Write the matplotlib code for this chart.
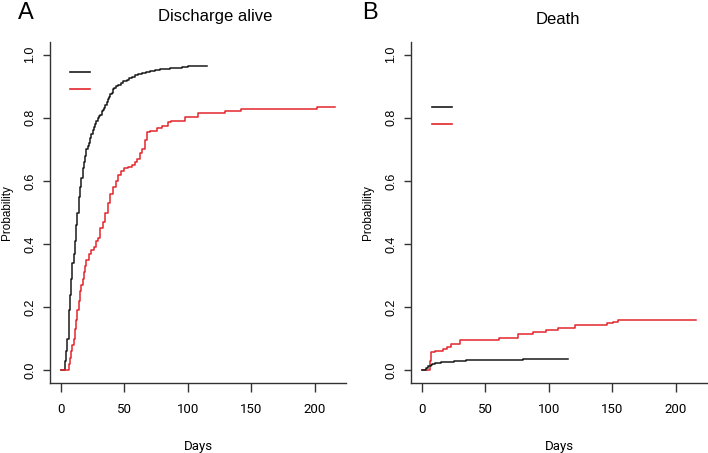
import matplotlib
matplotlib.use("Agg")
import matplotlib.pyplot as plt
from matplotlib.lines import Line2D

# cumulative incidence (days, probability)
dis_black_days = [0, 3, 3.5, 4, 5, 6, 6.5, 7, 8, 9, 10, 11, 12, 13, 14, 15, 16, 17, 18, 19,
                  20, 21, 22, 23, 24, 25, 26, 27, 28, 29, 30, 31, 32, 33, 34, 35, 36, 37,
                  38, 39, 40, 41, 42, 43, 45, 47, 49, 52, 54, 56, 58, 61, 64, 67, 70, 74,
                  78, 82, 86, 90, 95, 100, 105, 110, 115]
dis_black_p = [0, 0, 0.03, 0.06, 0.10, 0.15, 0.19, 0.24, 0.29, 0.34, 0.37, 0.41, 0.46, 0.50,
               0.55, 0.58, 0.61, 0.64, 0.66, 0.68, 0.70, 0.71, 0.72, 0.735, 0.75, 0.76,
               0.77, 0.78, 0.79, 0.80, 0.805, 0.81, 0.82, 0.825, 0.83, 0.84, 0.85, 0.86,
               0.865, 0.875, 0.88, 0.89, 0.895, 0.90, 0.905, 0.91, 0.915, 0.92, 0.925,
               0.93, 0.935, 0.94, 0.943, 0.946, 0.949, 0.951, 0.953, 0.955, 0.957, 0.959,
               0.961, 0.963, 0.964, 0.965, 0.965]

dis_red_days = [0, 5, 6, 7, 8, 9, 10, 11, 12, 13, 14, 15, 16, 17, 18, 19, 20, 22, 24, 26,
                27.5, 29, 31, 33, 35, 37, 39, 41, 43, 45, 47, 50, 53, 56, 58, 60, 62, 64,
                66, 68, 70, 75.6, 80, 84, 87, 98, 108, 129, 142, 202, 216]
dis_red_p = [0, 0, 0.02, 0.04, 0.06, 0.08, 0.10, 0.13, 0.16, 0.19, 0.22, 0.25, 0.27, 0.29,
             0.31, 0.33, 0.35, 0.37, 0.38, 0.39, 0.41, 0.42, 0.45, 0.47, 0.50, 0.53, 0.56,
             0.58, 0.60, 0.62, 0.63, 0.64, 0.645, 0.65, 0.66, 0.67, 0.69, 0.70, 0.73,
             0.755, 0.757, 0.769, 0.775, 0.786, 0.791, 0.803, 0.815, 0.823, 0.829, 0.835,
             0.835]

death_black_days = [0, 2.5, 3, 3.5, 4, 4.5, 5, 6, 7, 8, 9, 10, 12, 15, 18, 20, 25, 30, 35,
                    40, 50, 60, 70, 80, 90, 100, 109, 115]
death_black_p = [0, 0, 0.003, 0.006, 0.009, 0.011, 0.013, 0.015, 0.017, 0.019, 0.021,
                 0.022, 0.024, 0.025, 0.026, 0.027, 0.029, 0.031, 0.032, 0.033, 0.033,
                 0.034, 0.034, 0.035, 0.035, 0.036, 0.037, 0.037]

death_red_days = [0, 5, 6, 7, 10, 16.5, 19.4, 23, 30, 61, 76, 87.6, 98, 107, 121, 146,
                  150.6, 154.6, 216]
death_red_p = [0, 0, 0.03, 0.057, 0.061, 0.069, 0.075, 0.084, 0.095, 0.101, 0.114, 0.121,
               0.128, 0.135, 0.143, 0.149, 0.154, 0.161, 0.161]

x_ticks = [0, 50, 100, 150, 200]
y_ticks = [0.0, 0.2, 0.4, 0.6, 0.8, 1.0]

BLACK = "#1a1a1a"
RED = "#e3262b"
AXC = "#333333"

fig = plt.figure(figsize=(7.08, 4.53), dpi=100)
axA = fig.add_axes([50 / 708, 1 - 383 / 453, 296 / 708, 341 / 453])
axB = fig.add_axes([411 / 708, 1 - 383 / 453, 296 / 708, 341 / 453])


def style(ax, key_y):
    ax.set_xlim(-8.64, 224.64)
    ax.set_ylim(-0.04, 1.04)
    for s in ["top", "right"]:
        ax.spines[s].set_visible(False)
    for s in ["left", "bottom"]:
        ax.spines[s].set_color(AXC)
        ax.spines[s].set_linewidth(1.0)
    ax.set_xticks(x_ticks)
    ax.set_yticks(y_ticks)
    ax.set_xticklabels([str(t) for t in x_ticks], family="Roboto", fontsize=9.5)
    ax.set_yticklabels(["%.1f" % t for t in y_ticks], rotation=90, va="center",
                       family="Liberation Sans", fontsize=9)
    ax.tick_params(axis="x", length=6.5, width=1.0, color=AXC, pad=8)
    ax.tick_params(axis="y", length=5, width=1.0, color=AXC, pad=5)
    ax.set_xlabel("Days", family="Roboto", fontsize=9.5, labelpad=17)
    ax.set_ylabel("Probability", family="Liberation Sans", fontsize=8.5, labelpad=8)
    x0, x1 = key_y[0]
    ax.add_line(Line2D([x0, x1], [key_y[1], key_y[1]], color=BLACK, lw=1.2,
                       transform=ax.transAxes))
    ax.add_line(Line2D([x0, x1], [key_y[2], key_y[2]], color=RED, lw=1.2,
                       transform=ax.transAxes))


axA.plot(dis_black_days, dis_black_p, drawstyle="steps-post", color=BLACK, lw=1.1)
axA.plot(dis_red_days, dis_red_p, drawstyle="steps-post", color=RED, lw=1.1)
style(axA, ((0.068, 0.135), 0.912, 0.862))

axB.plot(death_red_days, death_red_p, drawstyle="steps-post", color=RED, lw=1.1)
axB.plot(death_black_days, death_black_p, drawstyle="steps-post", color=BLACK, lw=1.1)
style(axB, ((0.071, 0.139), 0.809, 0.760))

fig.text(215 / 708, 1 - 16 / 453, "Discharge alive", ha="center", va="center",
         family="Liberation Sans", fontsize=12)
fig.text(558 / 708, 1 - 20 / 453, "Death", ha="center", va="center",
         family="Liberation Sans", fontsize=12)
fig.text(26 / 708, 1 - 13 / 453, "A", ha="center", va="center",
         family="Liberation Sans", fontsize=17)
fig.text(370 / 708, 1 - 13 / 453, "B", ha="center", va="center",
         family="Liberation Sans", fontsize=17)

fig.savefig("out.png", dpi=100)
